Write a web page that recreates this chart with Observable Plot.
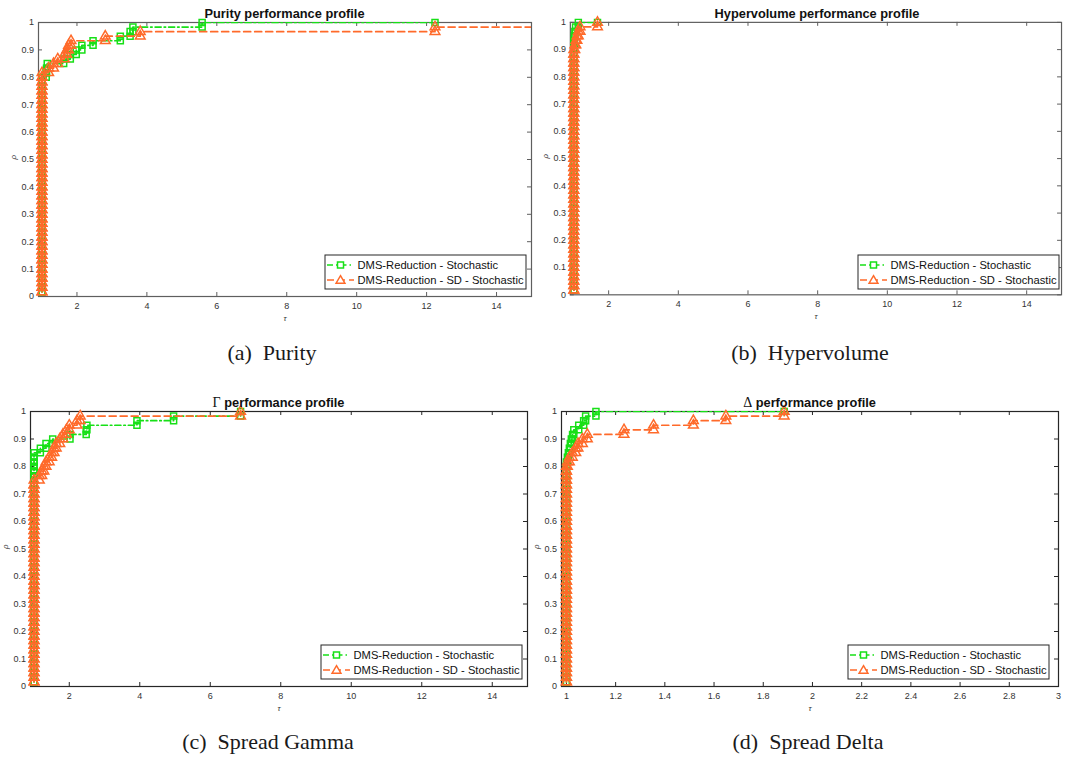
<!DOCTYPE html>
<html>
<head>
<meta charset="utf-8">
<script src="https://cdn.jsdelivr.net/npm/d3@7"></script>
<script src="https://cdn.jsdelivr.net/npm/@observablehq/plot@0.6"></script>
<style>
  body { margin: 0; background: #fff; }
  #page { position: relative; width: 1067px; height: 760px; overflow: hidden; background: #fff;
          font-family: "Liberation Sans", Arial, Helvetica, sans-serif; }
  .panel { position: absolute; }
  .panel svg { overflow: visible; }
  #overlay { position: absolute; left: 0; top: 0; pointer-events: none; }
</style>
</head>
<body>
<div id="page"></div>
<script>
// ---------------------------------------------------------------------------
// Performance profiles over 60 test problems. Each series is given as the
// distinct performance ratios tau and the number of problems at that ratio.
// ---------------------------------------------------------------------------
const nProblems = 60;
const seriesNames = ["DMS-Reduction - Stochastic", "DMS-Reduction - SD - Stochastic"];
const seriesColors = ["#17e017", "#ff6a2a"];

// Purity
const purityDmsTau   = [1, 1.12, 1.13, 1.15, 1.62, 1.81, 1.98, 2.14, 2.46, 3.24, 3.52, 3.6, 5.58];
const purityDmsCount = [48, 1, 1, 1, 1, 1, 1, 1, 1, 1, 1, 1, 1];
// last SD problem is unsolved: plotted at twice the largest ratio
const puritySdTau    = [1, 1.19, 1.33, 1.45, 1.64, 1.71, 1.76, 1.83, 2.81, 3.81, 12.24, 24.48];
const puritySdCount  = [49, 1, 1, 1, 1, 1, 1, 1, 1, 1, 1, 1];
const purityTauMax   = 12.24;

// Hypervolume
const hyperDmsTau    = [1, 1.015, 1.03, 1.05, 1.13];
const hyperDmsCount  = [56, 1, 1, 1, 1];
const hyperSdTau     = [1, 1.03, 1.06, 1.09, 1.13, 1.18, 1.68];
const hyperSdCount   = [54, 1, 1, 1, 1, 1, 1];
const hyperTauMax    = 1.68;

// Spread Gamma
const gammaDmsTau    = [1, 1.18, 1.34, 1.53, 2.02, 2.48, 2.5, 3.92, 4.96, 6.86];
const gammaDmsCount  = [51, 1, 1, 1, 1, 1, 1, 1, 1, 1];
const gammaSdTau     = [1, 1.15, 1.22, 1.28, 1.34, 1.43, 1.5, 1.57, 1.63, 1.73, 1.82, 1.92, 2.0, 2.22, 2.31, 6.86];
const gammaSdCount   = [45, 1, 1, 1, 1, 1, 1, 1, 1, 1, 1, 1, 1, 1, 1, 1];
const gammaTauMax    = 6.86;

// Spread Delta
const deltaDmsTau    = [1, 1.004, 1.008, 1.012, 1.016, 1.02, 1.025, 1.03, 1.05, 1.07, 1.078, 1.12];
const deltaDmsCount  = [49, 1, 1, 1, 1, 1, 1, 1, 1, 1, 1, 1];
const deltaSdTau     = [1, 1.004, 1.012, 1.024, 1.038, 1.047, 1.065, 1.085, 1.234, 1.354, 1.516, 1.648, 1.885];
const deltaSdCount   = [48, 1, 1, 1, 1, 1, 1, 1, 1, 1, 1, 1, 1];
const deltaTauMax    = 1.885;

// Axis ticks
const yTicks     = [0, 0.1, 0.2, 0.3, 0.4, 0.5, 0.6, 0.7, 0.8, 0.9, 1];
const xTicksWide = [2, 4, 6, 8, 10, 12, 14];
const xTicksNarrow = [1, 1.2, 1.4, 1.6, 1.8, 2, 2.2, 2.4, 2.6, 2.8, 3];

// Titles and sub-figure captions
const titles   = ["Purity performance profile", "Hypervolume performance profile",
                  "\u0393 performance profile", "\u0394 performance profile"];
const captions = [["(a)", "Purity"], ["(b)", "Hypervolume"], ["(c)", "Spread Gamma"], ["(d)", "Spread Delta"]];

// ---------------------------------------------------------------------------
// Staircase vertices of a profile (markers sit on every corner)
function stairs(tau, count, tauMax) {
  const ratios = tau.flatMap((t, i) => Array(count[i]).fill(t));
  const pts = [];
  ratios.forEach((t, i) => {
    if (i > 0) pts.push({tau: t, rho: i / nProblems});
    pts.push({tau: t, rho: (i + 1) / nProblems});
  });
  const last = ratios[ratios.length - 1];
  if (last < tauMax) pts.push({tau: tauMax, rho: ratios.length / nProblems});
  return pts;
}

const fmt = d3.format("~g");
const M = {left: 30, top: 22, right: 6, bottom: 36};

function drawPanel(cfg) {
  const {series, tauMax, xDomain, xTicks, frame, axisColor} = cfg;
  const W = frame.width, H = frame.height;
  const s1 = stairs(series[0][0], series[0][1], tauMax);
  const s2 = stairs(series[1][0], series[1][1], tauMax);
  const inside = d => d.tau <= xDomain[1];

  const chart = Plot.plot({
    width: M.left + W + M.right,
    height: M.top + H + M.bottom,
    marginLeft: M.left, marginTop: M.top, marginRight: M.right, marginBottom: M.bottom,
    x: {domain: xDomain},
    y: {domain: [0, 1]},
    style: {fontFamily: '"Liberation Sans", Arial, Helvetica, sans-serif', fontSize: "9px",
            color: "#333", background: "transparent"},
    marks: [
      Plot.frame({stroke: axisColor, strokeWidth: 1.2}),
      // inward ticks on all four sides
      Plot.tickX(xTicks, {x: d => d, insetTop: H - 4, stroke: axisColor}),
      Plot.tickX(xTicks, {x: d => d, insetBottom: H - 4, stroke: axisColor}),
      Plot.tickY(yTicks, {y: d => d, insetRight: W - 4, stroke: axisColor}),
      Plot.tickY(yTicks, {y: d => d, insetLeft: W - 4, stroke: axisColor}),
      Plot.axisX(xTicks, {tickSize: 0, tickPadding: 6, tickFormat: fmt, label: null}),
      Plot.axisY(yTicks, {tickSize: 0, tickPadding: 4.5, tickFormat: fmt, label: null}),
      Plot.text(["\u03c1"], {text: d => d, frameAnchor: "left", dx: -25, rotate: -90,
                             fontStyle: "italic", fontSize: 8, fill: "#333"}),
      Plot.text(["\u03c4"], {text: d => d, frameAnchor: "bottom", dy: 24,
                             fontStyle: "italic", fontSize: 8, fill: "#333"}),
      // DMS-Reduction - Stochastic
      Plot.line(s1, {x: "tau", y: "rho", stroke: seriesColors[0], strokeWidth: 1.7,
                     strokeDasharray: "6,3,1.5,3", clip: true}),
      Plot.dot(s1.filter(inside), {x: "tau", y: "rho", symbol: "square", r: 3.4,
                     stroke: seriesColors[0], strokeWidth: 1.5, fill: "none"}),
      // DMS-Reduction - SD - Stochastic
      Plot.line(s2, {x: "tau", y: "rho", stroke: seriesColors[1], strokeWidth: 1.7,
                     strokeDasharray: "7,4", clip: true}),
      Plot.dot(s2.filter(inside), {x: "tau", y: "rho", symbol: "triangle", r: 3.6,
                     stroke: seriesColors[1], strokeWidth: 1.5, fill: "none"})
    ]
  });
  const div = document.createElement("div");
  div.className = "panel";
  div.style.left = (frame.left - M.left) + "px";
  div.style.top = (frame.top - M.top) + "px";
  div.appendChild(chart);
  document.getElementById("page").appendChild(div);
}

const panels = [
  {series: [[purityDmsTau, purityDmsCount], [puritySdTau, puritySdCount]], tauMax: purityTauMax,
   xDomain: [0.9, 15], xTicks: xTicksWide, axisColor: "#5e5e5e",
   frame: {left: 38, top: 22, width: 493, height: 274}, legend: {x: 325, y: 255}},
  {series: [[hyperDmsTau, hyperDmsCount], [hyperSdTau, hyperSdCount]], tauMax: hyperTauMax,
   xDomain: [0.9, 15], xTicks: xTicksWide, axisColor: "#5e5e5e",
   frame: {left: 570, top: 22, width: 494, height: 274}, legend: {x: 858, y: 255}},
  {series: [[gammaDmsTau, gammaDmsCount], [gammaSdTau, gammaSdCount]], tauMax: gammaTauMax,
   xDomain: [0.9, 15], xTicks: xTicksWide, axisColor: "#262626",
   frame: {left: 30, top: 411, width: 497, height: 275}, legend: {x: 321, y: 645}},
  {series: [[deltaDmsTau, deltaDmsCount], [deltaSdTau, deltaSdCount]], tauMax: deltaTauMax,
   xDomain: [0.98, 3], xTicks: xTicksNarrow, axisColor: "#262626",
   frame: {left: 561, top: 411, width: 497, height: 275}, legend: {x: 848, y: 645}}
];
panels.forEach(drawPanel);

// ---------------------------------------------------------------------------
// Titles, legends and captions drawn on top of the panels
const NS = "http://www.w3.org/2000/svg";
const overlay = document.createElementNS(NS, "svg");
overlay.setAttribute("id", "overlay");
overlay.setAttribute("width", 1067);
overlay.setAttribute("height", 760);
document.getElementById("page").appendChild(overlay);

function el(tag, attrs, parent) {
  const e = document.createElementNS(NS, tag);
  for (const k in attrs) e.setAttribute(k, attrs[k]);
  (parent || overlay).appendChild(e);
  return e;
}

const captionPos = [[272, 360], [810, 360], [268, 748.5], [808, 748.5]];

panels.forEach((p, i) => {
  const f = p.frame;
  // title
  const t = el("text", {x: f.left + f.width / 2, y: f.top - 4.5, "text-anchor": "middle",
    "font-family": '"Liberation Sans", Arial, sans-serif', "font-size": 12.8, "font-weight": "bold", fill: "#111"});
  const title = titles[i];
  if (i >= 2) {
    const g = el("tspan", {"font-family": '"Liberation Serif", "Times New Roman", serif',
                           "font-weight": "normal", "font-size": 14}, t);
    g.textContent = title[0];
    const rest = el("tspan", {}, t);
    rest.textContent = "\u00a0" + title.slice(2);
  } else {
    t.textContent = title;
  }

  // legend
  const L = p.legend, w = 201, h = 34;
  el("rect", {x: L.x, y: L.y, width: w, height: h, fill: "#fff", stroke: "#262626", "stroke-width": 1});
  [0, 1].forEach(k => {
    const cy = L.y + (k === 0 ? 10 : 25);
    el("line", {x1: L.x + 2, x2: L.x + 29, y1: cy, y2: cy, stroke: seriesColors[k], "stroke-width": 1.7,
                "stroke-dasharray": k === 0 ? "6,3,1.5,3" : "7,4"});
    const mx = L.x + 15.5;
    if (k === 0) {
      el("rect", {x: mx - 3, y: cy - 3, width: 6, height: 6, fill: "#fff",
                  stroke: seriesColors[k], "stroke-width": 1.5});
    } else {
      el("path", {d: `M${mx},${cy - 4.3}L${mx + 4.4},${cy + 3.2}L${mx - 4.4},${cy + 3.2}Z`,
                  fill: "#fff", stroke: seriesColors[k], "stroke-width": 1.5});
    }
    const tx = el("text", {x: L.x + 32.5, y: cy + 4, "font-family": '"Liberation Sans", Arial, sans-serif',
                           "font-size": 11.2, fill: "#111"});
    tx.textContent = seriesNames[k];
  });

  // caption
  const [cx, cy] = captionPos[i];
  const c = el("text", {x: cx, y: cy, "text-anchor": "middle",
    "font-family": '"Liberation Serif", "Times New Roman", serif', "font-size": 22, fill: "#1a1a1a"});
  c.textContent = captions[i][0] + "\u2002" + captions[i][1];
});
</script>
</body>
</html>
